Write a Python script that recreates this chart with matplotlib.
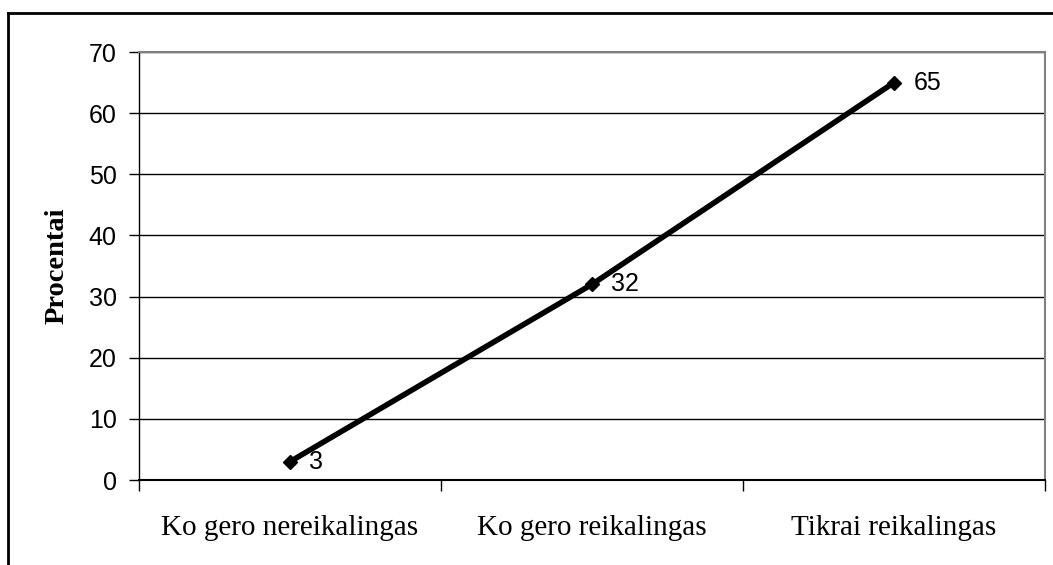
import numpy as np
import matplotlib.pyplot as plt
from matplotlib.lines import Line2D

categories = ["Ko gero nereikalingas", "Ko gero reikalingas", "Tikrai reikalingas"]
values = [3, 32, 65]
yticks = [0, 10, 20, 30, 40, 50, 60, 70]

fig = plt.figure(figsize=(10.53, 5.65), dpi=100)
ax = fig.add_axes([139 / 1053, 1 - 480 / 565, (1045 - 139) / 1053, (480 - 52) / 565])

x = np.arange(len(categories)) + 0.5
ax.plot(x, values, color="black", lw=4, marker="D", ms=7, solid_capstyle="butt")
for xi, v in zip(x, values):
    ax.annotate(str(v), (xi, v), xytext=(14, 0), textcoords="offset points",
                va="center", ha="left", fontsize=18, family="Liberation Sans")

ax.set_xlim(0, len(categories))
ax.set_ylim(0, 70)
ax.set_yticks(yticks)
ax.set_yticklabels([str(t) for t in yticks], fontsize=18, family="Liberation Sans")
ax.set_xticks(np.arange(len(categories) + 1))
ax.set_xticklabels([])
ax.set_xticks(x, minor=True)
ax.set_xticklabels(categories, minor=True, fontsize=21, family="Liberation Serif")
ax.tick_params(axis="x", which="major", direction="out", length=8, width=1)
ax.tick_params(axis="x", which="minor", length=0, pad=25)
ax.tick_params(axis="y", direction="out", length=7, width=1, pad=9)

ax.grid(axis="y", color="black", lw=1)
ax.set_axisbelow(True)
for s in ["top", "right"]:
    ax.spines[s].set_color("#808080")
    ax.spines[s].set_linewidth(1.5)
ax.spines["left"].set_linewidth(1)
ax.spines["bottom"].set_linewidth(1.5)

ax.set_ylabel("Procentai", fontsize=20.5, family="Liberation Serif", fontweight="bold", labelpad=14)

# outer chart frame
fig.add_artist(Line2D([8 / 1053, 8 / 1053], [0, 1 - 13 / 565], color="black", lw=2))
fig.add_artist(Line2D([8 / 1053, 1], [1 - 13 / 565, 1 - 13 / 565], color="black", lw=2))

fig.savefig("out.png", dpi=100)
